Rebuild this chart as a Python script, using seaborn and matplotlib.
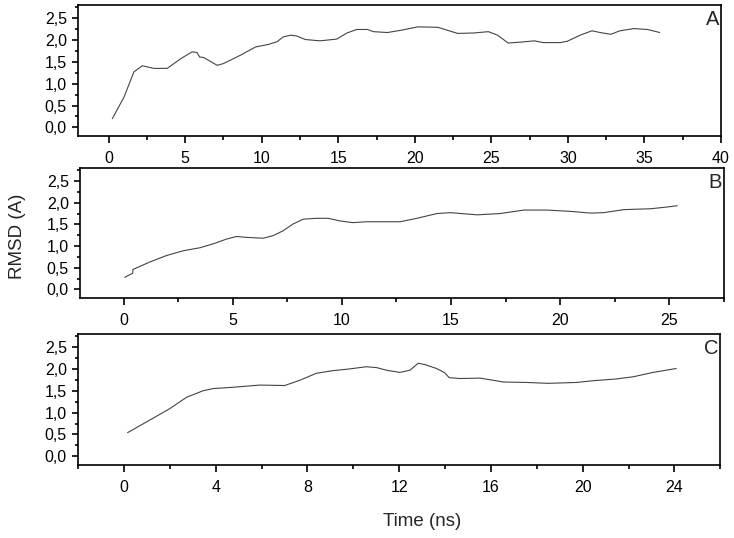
import numpy as np
import pandas as pd
import matplotlib
matplotlib.use('Agg')
import matplotlib.pyplot as plt
import seaborn as sns
from matplotlib.ticker import MultipleLocator, FixedLocator

# RMSD curves (time in ns, RMSD in A)
time_a = [0.24, 1.0, 1.65, 2.2, 2.95, 3.83, 4.7, 5.46, 5.78, 5.94, 6.2, 7.09, 7.5,
          8.6, 9.6, 10.46, 11.0, 11.4, 11.9, 12.3, 12.85, 13.8, 14.9, 15.57, 16.2,
          16.9, 17.3, 18.2, 19.07, 20.2, 21.5, 22.8, 23.85, 24.8, 25.4, 26.1, 26.9,
          27.8, 28.4, 29.5, 29.95, 30.8, 31.57, 32.1, 32.8, 33.4, 34.3, 35.2, 36.0]
rmsd_a = [0.2, 0.69, 1.27, 1.41, 1.35, 1.35, 1.57, 1.73, 1.71, 1.61, 1.6, 1.42, 1.46,
          1.65, 1.84, 1.9, 1.96, 2.07, 2.11, 2.09, 2.01, 1.98, 2.02, 2.16, 2.24,
          2.24, 2.19, 2.17, 2.22, 2.3, 2.29, 2.15, 2.16, 2.19, 2.11, 1.93, 1.95,
          1.98, 1.94, 1.94, 1.97, 2.11, 2.21, 2.17, 2.13, 2.21, 2.26, 2.24, 2.17]

time_b = [0.05, 0.41, 0.43, 1.19, 1.96, 2.72, 3.49, 4.1, 4.71, 5.17, 5.63, 6.39, 6.85,
          7.3, 7.77, 8.23, 8.84, 9.37, 9.9, 10.5, 11.13, 12.67, 13.44, 14.36, 14.97,
          16.2, 17.26, 18.34, 19.4, 20.47, 21.4, 22.0, 22.92, 24.14, 24.9, 25.37]
rmsd_b = [0.28, 0.37, 0.46, 0.63, 0.78, 0.89, 0.96, 1.05, 1.16, 1.22, 1.2, 1.18, 1.24,
          1.35, 1.51, 1.62, 1.64, 1.64, 1.58, 1.54, 1.56, 1.56, 1.64, 1.75, 1.77,
          1.72, 1.75, 1.83, 1.83, 1.8, 1.76, 1.77, 1.84, 1.86, 1.9, 1.93]

time_c = [0.16, 1.13, 2.0, 2.73, 3.45, 3.89, 4.76, 5.92, 7.01, 7.67, 8.39, 9.11, 9.84,
          10.57, 11.02, 11.45, 12.03, 12.47, 12.83, 13.12, 13.63, 13.99, 14.18, 14.65,
          15.52, 16.1, 16.54, 17.55, 18.5, 19.73, 20.46, 21.47, 22.2, 23.07, 24.08]
rmsd_c = [0.54, 0.83, 1.09, 1.35, 1.5, 1.55, 1.58, 1.63, 1.62, 1.74, 1.9, 1.96, 2.0,
          2.05, 2.03, 1.97, 1.92, 1.97, 2.13, 2.1, 2.01, 1.91, 1.8, 1.78,
          1.79, 1.74, 1.7, 1.69, 1.67, 1.69, 1.73, 1.77, 1.82, 1.92, 2.01]

panel_labels = ['A', 'B', 'C']
y_ticks = [0.0, 0.5, 1.0, 1.5, 2.0, 2.5]
y_ticklabels = ['0,0', '0,5', '1,0', '1,5', '2,0', '2,5']

sns.set_theme(style='ticks')
plt.rcParams['font.family'] = ['Liberation Sans', 'DejaVu Sans']

fig = plt.figure(figsize=(7.34, 5.38), dpi=100)

boxes = [(0.1063, 0.747, 0.876, 0.2437),
         (0.109, 0.446, 0.877, 0.2417),
         (0.1063, 0.1357, 0.875, 0.2435)]
xlims = [(-2, 40), (-2, 27.5), (-2, 26)]
x_major = [5, 5, 4]
x_minor = [2.5, 2.5, 2]

series = [(time_a, rmsd_a), (time_b, rmsd_b), (time_c, rmsd_c)]

for i, (t, r) in enumerate(series):
    ax = fig.add_axes(boxes[i])
    df = pd.DataFrame({'time': t, 'rmsd': r})
    sns.lineplot(data=df, x='time', y='rmsd', ax=ax, color='#444444', lw=0.8)
    ax.set_xlim(*xlims[i])
    ax.set_ylim(-0.2, 2.8)
    ax.xaxis.set_major_locator(MultipleLocator(x_major[i]))
    ax.xaxis.set_minor_locator(MultipleLocator(x_minor[i]))
    ax.yaxis.set_major_locator(FixedLocator(y_ticks))
    ax.set_yticklabels(y_ticklabels)
    ax.yaxis.set_minor_locator(MultipleLocator(0.25))
    ax.set_xlabel('')
    ax.set_ylabel('')
    for s in ax.spines.values():
        s.set_linewidth(1.2)
        s.set_color('black')
    ax.tick_params(axis='x', which='major', length=5, width=1.2, labelsize=11.5,
                   pad=6, color='black', labelcolor='black')
    ax.tick_params(axis='x', which='minor', length=3, width=1.2, color='black')
    ax.tick_params(axis='y', which='major', length=4, width=1.2, labelsize=11.5,
                   pad=4, color='black', labelcolor='black')
    ax.tick_params(axis='y', which='minor', length=2.5, width=1.2, color='black')
    ax.text(0.997, 0.965, panel_labels[i], transform=ax.transAxes,
            ha='right', va='top', fontsize=14.5)

fig.text(0.0245, 0.56, 'RMSD (A)', rotation=90, ha='center', va='center', fontsize=13.5)
fig.text(0.575, 0.03, 'Time (ns)', ha='center', va='center', fontsize=13.5)

fig.savefig('out.png', dpi=100, facecolor='white')
